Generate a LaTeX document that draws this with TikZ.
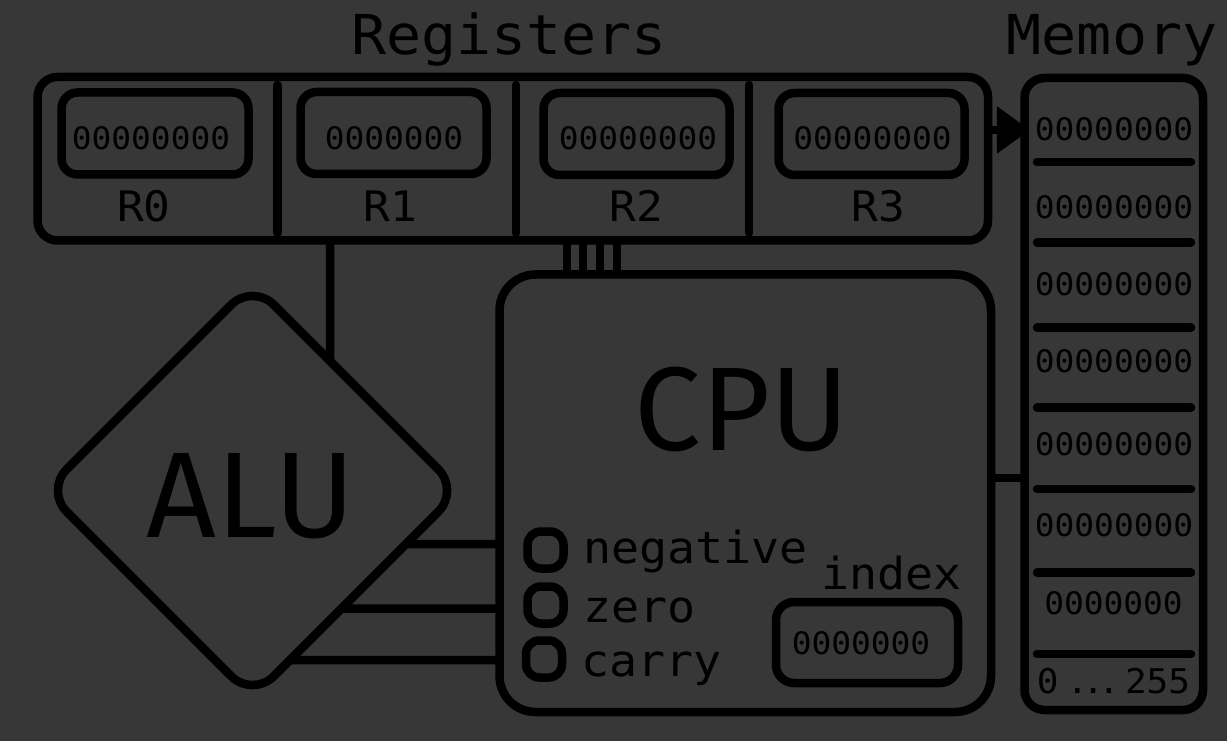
\documentclass[tikz,border=0pt]{standalone}
\usepackage{fontspec}
\usetikzlibrary{shapes.geometric,arrows.meta,calc}
\newfontfamily\monof[FakeStretch=1.06]{DejaVu Sans Mono}
\newfontfamily\sansf{Fira Sans}
\definecolor{bg}{HTML}{373737}
\newcommand\pxu{0.75pt}
\begin{document}
\begin{tikzpicture}[x=0.75pt,y=-0.75pt,
  line width=6.375pt,
  box/.style={draw=black, rectangle, inner sep=0pt, outer sep=0pt},
  txt/.style={inner sep=0pt, outer sep=0pt, anchor=base, text=black},
  title/.style={font=\monof\fontsize{41.25}{42}\selectfont},
  digit/.style={font=\monof\fontsize{23.25}{24}\selectfont},
  rlabel/.style={font=\monof\fontsize{31.5}{32}\selectfont},
  flagtxt/.style={font=\monof\fontsize{33}{34}\selectfont},
  wire/.style={draw=black, line cap=butt},
  rule/.style={draw=black, line cap=round},
]
\fill[bg] (0,0) rectangle (1227,741);
\useasboundingbox (0,0) rectangle (1227,741);

% titles
\node[txt, title] (regt) at (509,55) {Registers};
\node[txt, title] (memt) at (1112,55) {Memory};

% registers
\node[box, rounded corners=15pt, minimum width=950.5*\pxu, minimum height=163.5*\pxu] (reg) at (512.75,158.75) {};
\node[box, rounded corners=12pt, minimum width=187*\pxu, minimum height=82*\pxu] (r0) at (155,133.5) {};
\node[box, rounded corners=12pt, minimum width=186*\pxu, minimum height=82*\pxu] (r1) at (393.5,133) {};
\node[box, rounded corners=12pt, minimum width=186*\pxu, minimum height=82*\pxu] (r2) at (636.5,134) {};
\node[box, rounded corners=12pt, minimum width=186*\pxu, minimum height=82*\pxu] (r3) at (871.5,134) {};
\node[txt, digit] (r0v) at (151,150) {00000000};
\node[txt, digit] (r1v) at (394,150) {0000000};
\node[txt, digit] (r2v) at (638,150) {00000000};
\node[txt, digit] (r3v) at (872.5,150) {00000000};
\node[txt, rlabel] (r0l) at (144,222) {R0};
\node[txt, rlabel] (r1l) at (390,222) {R1};
\node[txt, rlabel] (r2l) at (636,222) {R2};
\node[txt, rlabel] (r3l) at (878,222) {R3};
\draw[rule] (277.5,85) -- (277.5,233);
\draw[rule] (516,85) -- (516,233);
\draw[rule] (749,85) -- (749,233);

% memory
\node[box, rounded corners=15pt, minimum width=178.5*\pxu, minimum height=632*\pxu] (mem) at (1113.75,394) {};
\foreach \y in {162,242.5,327.7,407.7,489,572.7,654}
  \draw[rule] (1037,\y) -- (1191,\y);
\node[txt, digit] (m1) at (1114,141) {00000000};
\node[txt, digit] (m2) at (1114,219) {00000000};
\node[txt, digit] (m3) at (1114,296) {00000000};
\node[txt, digit] (m4) at (1114,373) {00000000};
\node[txt, digit] (m5) at (1114,455) {00000000};
\node[txt, digit] (m6) at (1114,536) {00000000};
\node[txt, digit] (m7) at (1113.5,614) {0000000};
\node[txt, font=\monof\fontsize{25.5}{26}\selectfont] (m8) at (1113.5,693)
  {0\kern6pt.\kern-4.5pt.\kern-4.5pt.\kern4pt255};

% register -> memory arrow
\coordinate (ay) at (0,130);
\draw[wire, -{Triangle[length=24.75pt,width=33.75pt]}, shorten >=-4.1pt] (reg.east |- ay) -- (mem.west |- ay);

% CPU
\node[box, rounded corners=27pt, minimum width=491.5*\pxu, minimum height=437.5*\pxu] (cpu) at (745.25,493.25) {};
\node[txt, font=\sansf\fontsize{89.25}{90}\selectfont] (cputxt) at (742,450) {CPU};

% register bus to CPU
\foreach \x [count=\i] in {567,583,600,617} {
  \coordinate (bx\i) at (\x,0);
  \draw[wire] (reg.south -| bx\i) -- (cpu.north -| bx\i);
}

% ALU
\node[draw=black, diamond, shape aspect=1, inner sep=0pt, outer sep=0pt,
  minimum width=414*\pxu, minimum height=414*\pxu, rounded corners=22.5pt] (alu) at (252.5,490.5) {};
\node[txt, font=\sansf\fontsize{91.5}{92}\selectfont] (alutxt) at (251,537) {ALU};

% register -> ALU
\coordinate (vxa) at (330,0);
\coordinate (vxb) at (330,10);
\coordinate (alutop) at (intersection cs: first line={(vxa)--(vxb)}, second line={(alu.north)--(alu.east)});
\draw[wire] (reg.south -| vxa) -- (alutop);

% ALU -> CPU
\foreach \y [count=\i] in {544,608.5,660} {
  \coordinate (hya\i) at (0,\y);
  \coordinate (hyb\i) at (10,\y);
  \coordinate (alur\i) at (intersection cs: first line={(hya\i)--(hyb\i)}, second line={(alu.east)--(alu.south)});
  \draw[wire] (alur\i) -- (cpu.west |- hya\i);
}

% CPU -> memory
\coordinate (cy) at (0,478);
\draw[wire] (cpu.east |- cy) -- (mem.west |- cy);

% flags
\node[box, rounded corners=10pt, minimum width=36*\pxu, minimum height=37*\pxu] (fn) at (545.5,550) {};
\node[box, rounded corners=10pt, minimum width=36*\pxu, minimum height=37*\pxu] (fz) at (545.5,605) {};
\node[box, rounded corners=10pt, minimum width=36*\pxu, minimum height=37*\pxu] (fc) at (544,659) {};
\node[txt, flagtxt, anchor=base west] (fnl) at (583,563) {negative};
\node[txt, flagtxt, anchor=base west] (fzl) at (583,622) {zero};
\node[txt, flagtxt, anchor=base west] (fcl) at (581,676) {carry};

% index
\node[txt, flagtxt] (idxl) at (891.5,589) {index};
\node[box, rounded corners=13.5pt, minimum width=182*\pxu, minimum height=81*\pxu] (idx) at (867,642.5) {};
\node[txt, digit] (idxv) at (861,654) {0000000};
\end{tikzpicture}
\end{document}
